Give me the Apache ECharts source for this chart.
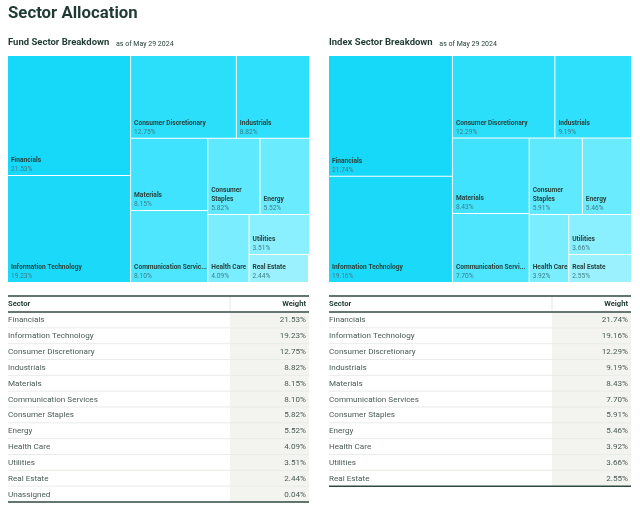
<!DOCTYPE html>
<html><head><meta charset="utf-8">
<script src="https://cdn.jsdelivr.net/npm/echarts@6/dist/echarts.min.js"></script>
<style>html,body{margin:0;padding:0;background:#fff}#c{width:640px;height:517px}</style>
</head><body><div id="c"></div>
<script>
// ---- data ----
const fundSectors = ['Financials','Information Technology','Consumer Discretionary','Industrials','Materials','Communication Services','Consumer Staples','Energy','Health Care','Utilities','Real Estate','Unassigned'];
const fundWeights = [21.53,19.23,12.75,8.82,8.15,8.10,5.82,5.52,4.09,3.51,2.44,0.04];
const indexSectors = ['Financials','Information Technology','Consumer Discretionary','Industrials','Materials','Communication Services','Consumer Staples','Energy','Health Care','Utilities','Real Estate'];
const indexWeights = [21.74,19.16,12.29,9.19,8.43,7.70,5.91,5.46,3.92,3.66,2.55];
const pageTitle = 'Sector Allocation';
const fundTitle = 'Fund Sector Breakdown';
const indexTitle = 'Index Sector Breakdown';
const asOf = 'as of May 29 2024';
const tableHeaders = ['Sector','Weight'];

// ---- styles ----
const shades = ['#16d8f8','#1bdaf9','#2bdffb','#2ee0fb','#40e3fd','#4de6fe','#5ee9fe','#6aebfe','#7aedfe','#8aeffe','#9bf1fe','#aaf3ff'];
const wrapNames = ['Consumer Staples'];
const FONT = 'Roboto';
const DARK = '#1f3a33';
const BODY = '#4a5a54';

function fmt(v){ return v.toFixed(2) + '%'; }

// one treemap layer; 'name' layer draws the tiles + sector names, 'value' layer is a transparent twin that prints the weights
function treemapSeries(names, vals, left, width, layer){
  const isName = layer === 'name';
  return {
    type:'treemap', left:left, top:56, width:width, height:226,
    roam:false, nodeClick:false, silent:true, animation:false,
    breadcrumb:{show:false}, squareRatio:1, sort:'desc', visibleMin:1,
    levels:[{itemStyle:{borderWidth:0, gapWidth:1, borderColor:'#fff'}}],
    itemStyle:{borderWidth:0, gapWidth:1, borderColor:'#fff'},
    label:{
      show:true, position:'insideBottomLeft', distance:1,
      padding: isName ? [0,0,9,2] : [0,0,0,2],
      overflow:'truncate', ellipsis:'...',
      fontFamily:FONT, fontSize:6.6, lineHeight:9,
      fontWeight: isName ? 'bold' : 'normal',
      color: isName ? '#274540' : '#3f7e88',
      formatter: p => isName ? p.name : fmt(p.value)
    },
    data: names.map((n,i) => ({
      name:n, value:vals[i],
      itemStyle: isName ? {color:shades[i]} : {color:'rgba(0,0,0,0)'},
      label: vals[i] < 1 ? {show:false} : ((isName && wrapNames.includes(n)) ? {overflow:'break'} : {})
    }))
  };
}

function tableGraphics(names, vals, x0, x1, wx){
  const els = [];
  const top = 296, hb = 312, pitch = 15.83;
  const bottom = hb + pitch * names.length;
  const txt = (x, y, t, font, fill, align) => ({type:'text', x:x, y:y, style:{text:t, fill:fill, font:font, textAlign:align, align:align, textVerticalAlign:'middle', verticalAlign:'middle'}});
  els.push({type:'rect', shape:{x:wx, y:hb, width:x1-wx, height:bottom-hb}, style:{fill:'#f3f4ef'}});
  els.push({type:'line', shape:{x1:wx, y1:top, x2:wx, y2:hb}, style:{stroke:'#e6e9e4', lineWidth:1}});
  els.push({type:'line', shape:{x1:x0, y1:top, x2:x1, y2:top}, style:{stroke:'#2f4841', lineWidth:1.5}});
  els.push({type:'line', shape:{x1:x0, y1:hb, x2:x1, y2:hb}, style:{stroke:'#667672', lineWidth:2}});
  els.push(txt(x0, 304, tableHeaders[0], 'bold 7.6px ' + FONT, DARK, 'left'));
  els.push(txt(x1-3, 304, tableHeaders[1], 'bold 7.6px ' + FONT, DARK, 'right'));
  names.forEach((n,i) => {
    const cy = hb + pitch*(i+0.5) + 0.5;
    els.push(txt(x0, cy, n, '8.1px ' + FONT, BODY, 'left'));
    els.push(txt(x1-3, cy, fmt(vals[i]), '8.1px ' + FONT, BODY, 'right'));
    const ly = hb + pitch*(i+1);
    if (i < names.length-1) {
      els.push({type:'line', shape:{x1:x0, y1:ly, x2:x1, y2:ly}, style:{stroke:'#e9ece7', lineWidth:1}});
    }
  });
  els.push({type:'line', shape:{x1:x0, y1:bottom, x2:x1, y2:bottom}, style:{stroke:'#2f4841', lineWidth:1.5}});
  return els;
}

function subTitle(text, x){
  return {type:'text', x:x, y:43, style:{
    text:'{a|' + text + '}  {b|' + asOf + '}',
    textVerticalAlign:'middle', verticalAlign:'middle',
    rich:{
      a:{fontFamily:FONT, fontWeight:'bold', fontSize:9.5, fill:DARK, color:DARK},
      b:{fontFamily:FONT, fontSize:7, fill:DARK, color:DARK, padding:[2,0,0,0]}
    }
  }};
}

const chart = echarts.init(document.getElementById('c'), null, {renderer:'canvas'});
chart.setOption({
  backgroundColor:'#fff',
  animation:false,
  series:[
    treemapSeries(fundSectors, fundWeights, 8, 301, 'name'),
    treemapSeries(fundSectors, fundWeights, 8, 301, 'value'),
    treemapSeries(indexSectors, indexWeights, 329, 302, 'name'),
    treemapSeries(indexSectors, indexWeights, 329, 302, 'value')
  ],
  graphic:[
    {type:'text', x:8, y:14, style:{text:pageTitle, fill:DARK, font:'bold 16.8px ' + FONT, textAlign:'left', align:'left', textVerticalAlign:'middle', verticalAlign:'middle'}},
    subTitle(fundTitle, 8),
    subTitle(indexTitle, 329),
    ...tableGraphics(fundSectors, fundWeights, 8, 309, 230),
    ...tableGraphics(indexSectors, indexWeights, 329, 631, 552)
  ]
});
</script></body></html>
